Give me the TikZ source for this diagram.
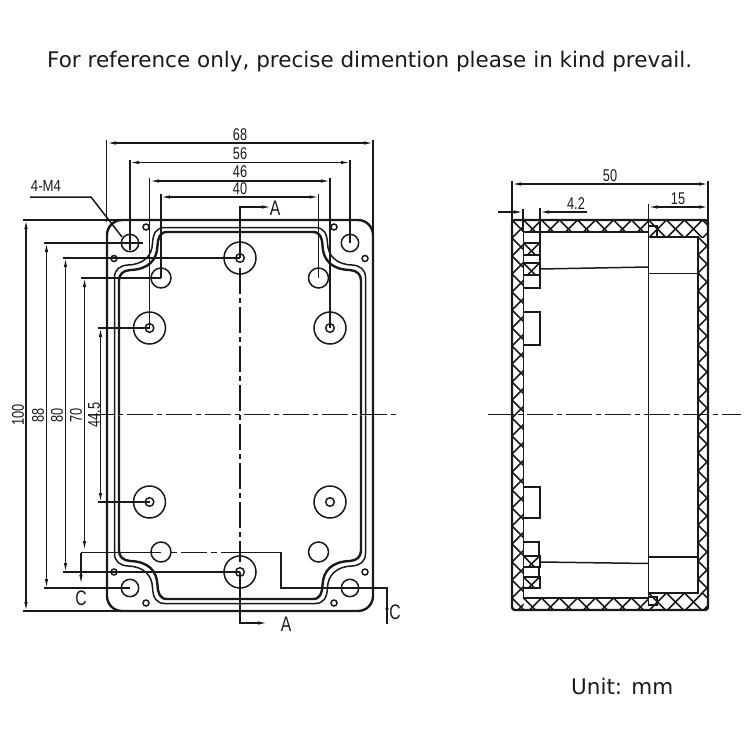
\documentclass[tikz,border=0pt]{standalone}
\usepackage{fontspec}
\setmainfont{DejaVu Sans}
\newfontfamily\dimfont[FakeStretch=0.75]{Liberation Sans}
\usetikzlibrary{arrows.meta}
\definecolor{ink}{HTML}{1A1A1A}
\tikzset{
  thinl/.style={draw=ink,line width=1.2pt},
  boxl/.style={draw=ink,line width=2.4pt},
  medl/.style={draw=ink,line width=1.5pt},
  hatchl/.style={draw=ink,line width=1.6pt},
  centre/.style={draw=ink,line width=1.2pt,dash pattern=on 26pt off 4pt on 5pt off 4pt},
  dimn/.style={thinl,{Latex[length=9pt,width=3.5pt]}-{Latex[length=9pt,width=3.5pt]}},
  dimone/.style={thinl,-{Latex[length=9pt,width=3.5pt]}},
  dimtxt/.style={font=\dimfont\fontsize{17}{17}\selectfont,inner sep=0pt,text=ink},
  sectxt/.style={font=\dimfont\fontsize{21}{21}\selectfont,inner sep=0pt,text=ink},
  captxt/.style={font=\fontsize{21.5}{24}\selectfont,inner sep=0pt,text=ink}
}
\newcommand{\hatchrect}[5]{% x1 y1 x2 y2 spacing
  \begin{scope}
    \clip (#1,#2) rectangle (#3,#4);
    \foreach \k in {-30,...,30}{
      \draw[hatchl] ({#1+\k*#5},#2) -- ++(500,500);
      \draw[hatchl] ({#1+\k*#5},#2) -- ++(-500,500);
    }
  \end{scope}
}
\begin{document}
\begin{tikzpicture}[x=1pt,y=-1pt]
\useasboundingbox (0,0) rectangle (750,750);
\node[captxt,anchor=west] (title) at (47,62) {For reference only, precise dimention please in kind prevail.};
\node[captxt,anchor=west] (unit) at (571,686) {Unit: mm};

% ---- front view
\draw[boxl,rounded corners=15pt] (107,220) rectangle (373,611);
\foreach \sx/\sy in {1/1,-1/1,1/-1,-1/-1}{
  \begin{scope}[shift={(240,415.5)},xscale=\sx,yscale=\sy]
    \draw[medl] (-125.5,0) -- (-125.5,-138) .. controls (-125.5,-146) and (-120,-150) .. (-112,-150.5)
      .. controls (-96,-151) and (-88,-160) .. (-87.5,-172) .. controls (-87,-182) and (-84,-188) .. (-75,-188) -- (0,-188);
    \draw[boxl] (-121,0) -- (-121,-135) .. controls (-121,-141) and (-117,-145) .. (-110,-145.5)
      .. controls (-92,-146) and (-83,-155) .. (-82.5,-170) .. controls (-82,-178) and (-80,-183.5) .. (-73,-183.5) -- (0,-183.5);
  \end{scope}
}
\foreach \x/\y in {130/243,350/243,130/588,350/588}{\draw[medl] (\x,\y) circle[radius=8.7];}
\foreach \x/\y in {146/227,334/227,114/258.5,365/258.5,114/572,365/572,146/603,334/603}{\draw[medl] (\x,\y) circle[radius=3];}
\foreach \x/\y in {240/258,240/572,149.5/328,330/328,149.5/502,330/502}{
  \draw[medl] (\x,\y) circle[radius=16];
  \draw[medl] (\x,\y) circle[radius=4.3];
}
\foreach \x/\y in {161/278,318.5/278,161/552,318.5/552}{\draw[medl] (\x,\y) circle[radius=10];}

% centre lines
\draw[centre] (88,414.5) -- (397,414.5);
\draw[centre] (240,268) -- (240,562);

% width dimensions
\node[dimtxt] (d68) at (240,135) {68};
\node[dimtxt] (d56) at (240,154) {56};
\node[dimtxt] (d46) at (240,172) {46};
\node[dimtxt] (d40) at (240,189) {40};
\draw[dimn] (107,143) -- (373,143);
\draw[dimn] (130,162.5) -- (350,162.5);
\draw[dimn] (150,181) -- (330,181);
\draw[dimn] (161,197) -- (318.5,197);
\draw[thinl] (106.5,140) -- (106.5,222) (373,140) -- (373,235);
\draw[thinl] (130,160) -- (130,250) (350,160) -- (350,243);
\draw[thinl] (149.5,178) -- (149.5,328) (330,178) -- (330,328);
\draw[thinl] (161,194) -- (161,278) (318.5,194) -- (318.5,278);

% height dimensions
\node[dimtxt,rotate=90] (d100) at (18,415) {100};
\node[dimtxt,rotate=90] (d88) at (38,415) {88};
\node[dimtxt,rotate=90] (d80) at (57,415) {80};
\node[dimtxt,rotate=90] (d70) at (76,415) {70};
\node[dimtxt,rotate=90] (d44) at (94,415) {44.5};
\draw[dimn] (26,220) -- (26,611);
\draw[dimn] (46.5,243) -- (46.5,588);
\draw[dimn] (65.5,258) -- (65.5,572);
\draw[dimn] (84.5,278) -- (84.5,550);
\draw[dimn] (100.5,328) -- (100.5,502);
\draw[thinl] (23,220) -- (125,220) (23,611) -- (125,611);
\draw[thinl] (44,243) -- (143,243) (44,588) -- (130,588);
\draw[thinl] (63,258) -- (240,258) (63,572) -- (240,572);
\draw[thinl] (81,278) -- (161,278);
\draw[thinl] (98,328) -- (149.5,328) (98,502) -- (149.5,502);

% leader
\node[font=\dimfont\fontsize{16}{16}\selectfont,inner sep=0pt,text=ink,xscale=1.1] (m4) at (46,186) {4-M4};
\coordinate (ldA) at (30,197);
\coordinate (ldB) at (91,197);
\coordinate (ldC) at (122,237);
\draw[medl] (ldA) -- (ldB) -- (ldC);

% section marks
\node[sectxt] (aTop) at (275,208) {A};
\node[sectxt] (aBot) at (286,624) {A};
\node[sectxt] (cLeft) at (81,598) {C};
\node[sectxt] (cRight) at (395,612) {C};
\draw[dimone] (240,258) -- (240,207) -- (271,207);
\draw[dimone] (240,572) -- (240,623) -- (267,623);
\draw[thinl] (161,552.5) -- (81,552.5);
\draw[dimone] (81,552.5) -- (81,584);
\draw[medl,dash pattern=on 6pt off 4pt on 26pt off 4pt] (171,552.5) -- (240,552.5);
\draw[thinl] (240,552.5) -- (281,552.5) -- (281,588) -- (387,588) -- (387,624);
\draw[-{Latex[length=8pt,width=3.5pt]},thinl] (387,605) -- (387,616);

% ---- side view
\hatchrect{512}{220}{523.5}{610}{18}
\hatchrect{523.5}{220}{648.5}{232}{18}
\hatchrect{648.5}{220}{708}{237}{18}
\hatchrect{698}{237}{708}{593}{18}
\hatchrect{523.5}{598}{648.5}{610}{18}
\hatchrect{648.5}{593}{708}{610}{18}
\draw[boxl,rounded corners=3pt] (512,220) rectangle (708,610);
\draw[medl] (523.5,598) -- (523.5,232) -- (648.5,232) -- (648.5,598) -- cycle;
\draw[medl] (648.5,237) -- (698,237) -- (698,593) -- (648.5,593);
\draw[medl] (540,269) -- (648.5,267);
\draw[medl] (648.5,273.5) -- (698,273.5);
\draw[medl] (540,562) -- (648.5,563.5);
\draw[medl] (648.5,557) -- (698,557);
\draw[medl] (648.5,226) rectangle (657,237);
\draw[medl] (648.5,597) rectangle (657,605);
% ribs
\hatchrect{523.5}{243}{540}{255}{16}
\hatchrect{523.5}{263}{540}{275}{16}
\draw[medl] (523.5,243) rectangle (540,255);
\draw[medl] (523.5,263) rectangle (540,275);
\draw[medl] (523.5,232) rectangle (540,243);
\draw[medl] (523.5,255) rectangle (540,263);
\draw[medl] (523.5,275) rectangle (540,288);
\draw[medl] (523.5,312) rectangle (540,345);
\draw[medl] (523.5,487) rectangle (540,518);
\draw[medl] (523.5,542) rectangle (539,556);
\hatchrect{523.5}{556}{540}{567}{16}
\draw[medl] (523.5,556) rectangle (540,567);
\draw[medl] (523.5,567) rectangle (539,577);
\hatchrect{523.5}{577}{540}{588}{16}
\draw[medl] (523.5,577) rectangle (540,588);
% side centre line
\draw[centre] (488,414.5) -- (741,414.5);
% side dimensions
\node[dimtxt] (d50) at (610,176) {50};
\node[dimtxt] (d15) at (678,199) {15};
\node[dimtxt] (d42) at (576,204) {4.2};
\draw[dimn] (512,184) -- (708,184);
\draw[dimn] (648.5,207) -- (708,207);
\draw[thinl] (512,181) -- (512,222) (708,181) -- (708,222);
\draw[thinl] (648.5,204) -- (648.5,232);
\coordinate (aL) at (498,212);
\coordinate (aR) at (523,212);
\coordinate (bL) at (540,212);
\coordinate (bR) at (587,212);
\draw[dimone] (aL) -- (aR);
\draw[dimone] (bR) -- (bL);
\draw[thinl] (523,209) -- (523,232) (540,208) -- (540,232);
\end{tikzpicture}
\end{document}
